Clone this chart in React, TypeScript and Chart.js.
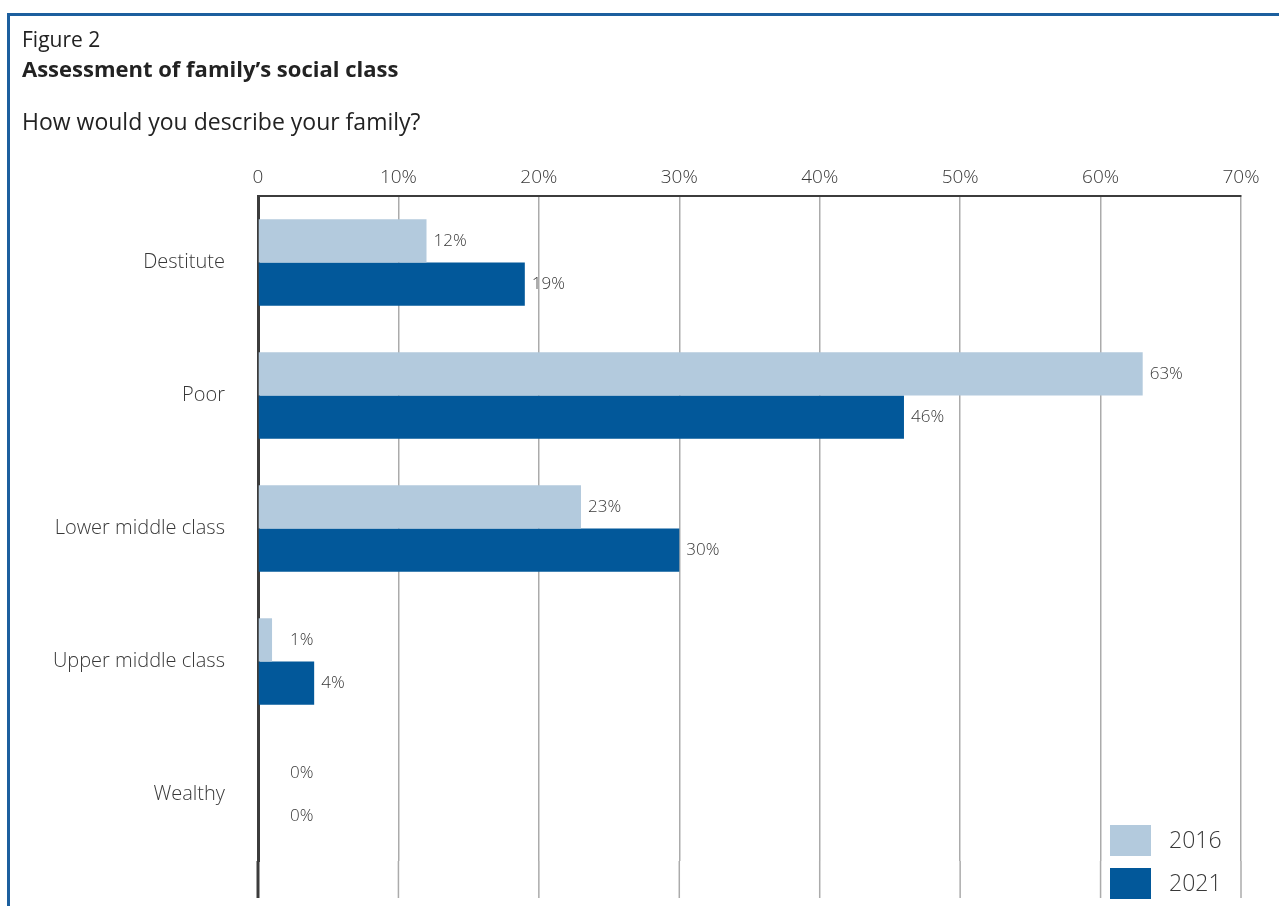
import React, { useEffect, useRef } from "react";
import { Chart, registerables } from "chart.js";

Chart.register(...registerables);

const categories = ["Destitute", "Poor", "Lower middle class", "Upper middle class", "Wealthy"];
const values2016 = [12, 63, 23, 1, 0];
const values2021 = [19, 46, 30, 4, 0];
const seriesLabels = ["2016", "2021"];
const seriesColors = ["#b3cadd", "#02589a"];
const xMin = 0;
const xMax = 70;
const xStep = 10;

const FONT = "'Open Sans', 'Noto Sans', sans-serif";
const TEXT = "#383838";
const GRID = "#ababab";
const AXIS = "#3c3c3c";

const valueLabels = {
  id: "valueLabels",
  afterDatasetsDraw(chart: any) {
    const ctx = chart.ctx;
    const xs = chart.scales.x;
    const zero = xs.getPixelForValue(0);
    ctx.save();
    ctx.font = `300 17px ${FONT}`;
    ctx.fillStyle = TEXT;
    ctx.textBaseline = "middle";
    ctx.textAlign = "left";
    chart.data.datasets.forEach((ds: any, di: number) => {
      const meta = chart.getDatasetMeta(di);
      meta.data.forEach((el: any, i: number) => {
        const v = ds.data[i];
        const px = Math.max(el.x + 7, zero + 32);
        ctx.fillText(v + "%", px, el.y);
      });
    });
    ctx.restore();
  },
};

const gridExtend = {
  id: "gridExtend",
  afterDraw(chart: any) {
    const ctx = chart.ctx;
    const xs = chart.scales.x;
    const area = chart.chartArea;
    const bottom = chart.height - 8;
    ctx.save();
    xs.ticks.forEach((t: any) => {
      const px = xs.getPixelForValue(t.value);
      if (t.value === 0) {
        ctx.strokeStyle = AXIS;
        ctx.lineWidth = 3;
      } else {
        ctx.strokeStyle = GRID;
        ctx.lineWidth = 1.5;
      }
      ctx.beginPath();
      ctx.moveTo(px, area.bottom);
      ctx.lineTo(px, bottom);
      ctx.stroke();
    });
    ctx.restore();
  },
};

const customLegend = {
  id: "customLegend",
  afterDraw(chart: any) {
    const ctx = chart.ctx;
    ctx.save();
    ctx.font = `300 23px ${FONT}`;
    ctx.textBaseline = "middle";
    ctx.textAlign = "left";
    const x0 = 1110;
    const y0 = 825;
    const w = 41;
    const h = 31;
    const gap = 43;
    chart.data.datasets.forEach((ds: any, i: number) => {
      const y = y0 + i * gap;
      ctx.fillStyle = ds.backgroundColor;
      ctx.fillRect(x0, y, w, h);
      ctx.fillStyle = TEXT;
      ctx.fillText(ds.label, x0 + 59, y + h / 2 + 1);
    });
    ctx.restore();
  },
};

export default function App() {
  const ref = useRef<HTMLCanvasElement | null>(null);

  useEffect(() => {
    if (!ref.current) return;
    const chart = new Chart(ref.current, {
      type: "bar",
      data: {
        labels: categories,
        datasets: [
          {
            label: seriesLabels[0],
            data: values2016,
            backgroundColor: seriesColors[0],
            borderWidth: 0,
            categoryPercentage: 0.65,
            barPercentage: 1.0,
          },
          {
            label: seriesLabels[1],
            data: values2021,
            backgroundColor: seriesColors[1],
            borderWidth: 0,
            categoryPercentage: 0.65,
            barPercentage: 1.0,
          },
        ],
      },
      options: {
        indexAxis: "y",
        responsive: false,
        animation: false,
        layout: { padding: { left: 0, right: 38, top: 0, bottom: 40 } },
        plugins: {
          legend: { display: false },
          tooltip: { enabled: false },
          title: { display: false },
        },
        scales: {
          x: {
            position: "top",
            min: xMin,
            max: xMax,
            ticks: {
              stepSize: xStep,
              padding: 7,
              color: TEXT,
              font: { family: FONT, size: 19, weight: "300" },
              callback: (v: any) => (Number(v) === 0 ? "0" : v + "%"),
            },
            grid: { color: GRID, lineWidth: 1.5, drawTicks: false },
            border: { display: true, color: AXIS, width: 2 },
            afterFit: (s: any) => {
              s.height = 196;
            },
          },
          y: {
            ticks: {
              padding: 33,
              color: TEXT,
              font: { family: FONT, size: 20, weight: "300" },
            },
            grid: { display: false, drawTicks: false },
            border: { display: true, color: AXIS, width: 3 },
            afterFit: (s: any) => {
              s.width = 258;
            },
          },
        },
      },
      plugins: [valueLabels, gridExtend, customLegend],
    });
    return () => chart.destroy();
  }, []);

  return (
    <div
      style={{
        position: "fixed",
        left: 0,
        top: 0,
        width: 1279,
        height: 906,
        overflow: "hidden",
        background: "#fff",
        fontFamily: FONT,
      }}
    >
      <div
        style={{
          position: "absolute",
          left: 7,
          top: 13,
          width: 1400,
          height: 1000,
          borderTop: "3px solid #1c5f9e",
          borderLeft: "3px solid #1c5f9e",
        }}
      />
      <canvas
        ref={ref}
        width={1279}
        height={906}
        style={{ position: "absolute", left: 0, top: 0, width: 1279, height: 906 }}
      />
      <div style={{ position: "absolute", left: 22, top: 29, fontSize: 21, lineHeight: 1, color: "#222", fontWeight: 400, whiteSpace: "nowrap" }}>
        Figure 2
      </div>
      <div style={{ position: "absolute", left: 22, top: 57, fontSize: 22, lineHeight: 1, color: "#222", fontWeight: 700, whiteSpace: "nowrap" }}>
        Assessment of family’s social class
      </div>
      <div style={{ position: "absolute", left: 22, top: 110, fontSize: 23, lineHeight: 1, color: "#222", fontWeight: 400, whiteSpace: "nowrap" }}>
        How would you describe your family?
      </div>
    </div>
  );
}
